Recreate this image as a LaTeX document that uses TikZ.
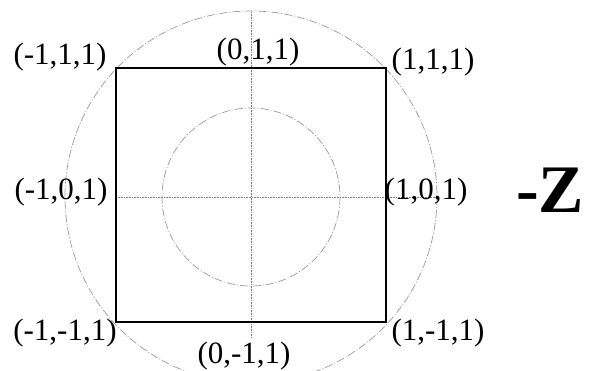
\documentclass[tikz,border=0pt]{standalone}
\usepackage{fontspec}
\setmainfont{Liberation Serif}
\tikzset{
  lbl/.style={font=\fontsize{31}{32}\selectfont, inner sep=0pt},
  guide/.style={gray, densely dotted, line width=0.6pt},
  ring/.style={gray!80, dash pattern=on 8pt off 2pt on 1pt off 2pt, line width=0.7pt}
}
\begin{document}
\begin{tikzpicture}[x=1pt,y=-1pt]
    \useasboundingbox (0,0) rectangle (589,371);
    \clip (0,0) rectangle (589,371);
    % corners of the face
    \coordinate (o) at (251,197);
    \coordinate (nw) at (116,68);
    \coordinate (ne) at (386,68);
    \coordinate (se) at (386,322);
    \coordinate (sw) at (116,322);
    \coordinate (top) at (251,12);
    \coordinate (bot) at (251,337);
    \coordinate (lft) at (116,197);
    \coordinate (rgt) at (437,197);
        \draw[guide] (top)--(bot);
        \draw[guide] (lft)--(rgt);
        \draw[ring] (o) circle(186);
        \draw[ring] (o) circle(89);
        \draw[line width=1.8pt] (nw)--(ne)--(se)--(sw)--cycle;
    % labels
    \node[lbl] (lnw) at (60,57) {(-1,1,1)};
    \node[lbl] (ln) at (258,52) {(0,1,1)};
    \node[lbl] (lne) at (433,62) {(1,1,1)};
    \node[lbl] (lw) at (61,192) {(-1,0,1)};
    \node[lbl] (le) at (426,192) {(1,0,1)};
    \node[lbl] (lsw) at (65,333) {(-1,-1,1)};
    \node[lbl] (ls) at (244,356) {(0,-1,1)};
    \node[lbl] (lse) at (438,333) {(1,-1,1)};
    \node[inner sep=0pt, font=\fontsize{68}{68}\selectfont\bfseries] (axis) at (550,190) {-Z};
\end{tikzpicture}
\end{document}
